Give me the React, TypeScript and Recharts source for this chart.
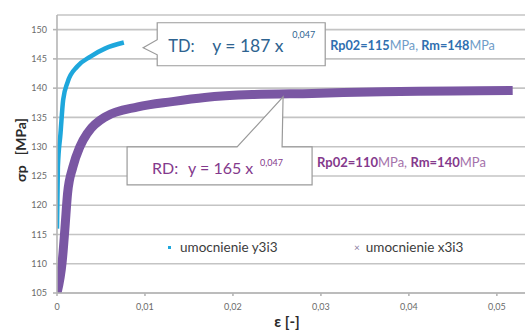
import React from 'react';
import { ComposedChart, Line, XAxis, YAxis, CartesianGrid, Legend, ReferenceDot, Label } from 'recharts';

// strain / stress
const strainTD = [0, 0.0001, 0.0004, 0.0007, 0.0012, 0.0023, 0.0038, 0.0055, 0.0076];
const stressTD = [116, 126.5, 132.3, 138, 141, 143.7, 145.4, 146.8, 147.8];
const strainRD = [0, 0.0006, 0.0009, 0.0012, 0.0018, 0.0026, 0.0035, 0.0055, 0.0092, 0.0131, 0.0168, 0.0222, 0.029, 0.037, 0.045, 0.0518];
const stressRD = [105, 110.5, 116, 122, 126.5, 130, 132.4, 135.1, 136.8, 137.7, 138.4, 138.9, 139.1, 139.4, 139.5, 139.6];

const xTicks = [0, 0.01, 0.02, 0.03, 0.04, 0.05];
const yTicks = [105, 110, 115, 120, 125, 130, 135, 140, 145, 150];
const seriesNames = ['umocnienie y3i3', 'umocnienie x3i3'];

// callout anchor points (where the pointers touch)
const tdTip = { x: 0.0098, y: 146.9 };
const rdTip = { x: 0.0257, y: 138.5 };

const CYAN = '#1ea7dc';
const PURPLE = '#7a57a3';
const BLUE_TXT = '#2f6fb0';
const PURPLE_TXT = '#84398c';
const FONT = 'Lato, "Open Sans", sans-serif';

const tdData = strainTD.map((x, i) => ({ x, y: stressTD[i] }));
const rdData = strainRD.map((x, i) => ({ x, y: stressRD[i] }));

const fmtX = (v: number) => (v === 0 ? '0' : v.toFixed(2).replace('.', ','));

const TdCallout = (props: any) => {
  const { cx, cy } = props;
  const bx = cx + 14;
  const by = cy - 25;
  const w = 168;
  const h = 43;
  const d = `M${bx},${by} H${bx + w} V${by + h} H${bx} V${cy + 7} L${cx},${cy} L${bx},${cy - 8} Z`;
  return (
    <g fontFamily={FONT}>
      <path d={d} fill="#fff" stroke="#9a9a9a" strokeWidth={1.2} />
      <text x={cx + 25} y={cy + 4} fontSize={16.5} fill="#2e6390">TD:</text>
      <text x={cx + 69} y={cy + 4} fontSize={17.5} fill="#2e6390">y = 187 x</text>
      <text x={cx + 149} y={cy - 10} fontSize={9} fill="#2e6390">0,047</text>
      <text x={cx + 187} y={cy + 2} fontSize={12.7} fill={BLUE_TXT}>
        <tspan fontWeight="bold">Rp02=115</tspan>
        <tspan fill="#6f9cc8">MPa, </tspan>
        <tspan fontWeight="bold">Rm=148</tspan>
        <tspan fill="#6f9cc8">MPa</tspan>
      </text>
    </g>
  );
};

const RdCallout = (props: any) => {
  const { cx, cy } = props;
  const bx = cx - 156;
  const by = cy + 50;
  const w = 185;
  const h = 38;
  const d = `M${bx},${by} H${cx - 46} L${cx},${cy} L${cx - 1},${by} H${bx + w} V${by + h} H${bx} Z`;
  return (
    <g fontFamily={FONT}>
      <path d={d} fill="#fff" stroke="#9a9a9a" strokeWidth={1.2} />
      <text x={cx - 131} y={cy + 77} fontSize={16} fill={PURPLE_TXT}>RD:</text>
      <text x={cx - 95} y={cy + 77} fontSize={16} fill={PURPLE_TXT}>y = 165 x</text>
      <text x={cx - 23} y={cy + 69} fontSize={9} fill={PURPLE_TXT}>0,047</text>
      <text x={cx + 34} y={cy + 70} fontSize={13} fill={PURPLE_TXT}>
        <tspan fontWeight="bold">Rp02=110</tspan>
        <tspan fill="#a572ab">MPa, </tspan>
        <tspan fontWeight="bold">Rm=140</tspan>
        <tspan fill="#a572ab">MPa</tspan>
      </text>
    </g>
  );
};

const LegendBox = () => (
  <div style={{ position: 'relative', height: 18, fontFamily: FONT, fontSize: 13.5, color: '#3c3c3c', whiteSpace: 'nowrap' }}>
    {seriesNames.map((name, i) => (
      <div key={`leg-${i}`} style={{ position: 'absolute', left: i === 0 ? 0 : 186, top: 0, display: 'flex', alignItems: 'center', height: 18 }}>
        {i === 0 ? (
          <span style={{ width: 3, height: 3, background: CYAN, display: 'inline-block', marginRight: 9 }} />
        ) : (
          <span style={{ color: '#8a7aa0', fontSize: 10, marginRight: 6 }}>×</span>
        )}
        <span>{name}</span>
      </div>
    ))}
  </div>
);

export default function App() {
  return (
    <div style={{ position: 'absolute', left: 0, top: 0, background: '#fff' }}>
      <ComposedChart width={525} height={331} margin={{ top: 15, right: 0, bottom: 0, left: 0 }}>
        <CartesianGrid vertical={false} stroke="#c4c4c4" strokeWidth={1.6} />
        <XAxis
          type="number"
          dataKey="x"
          domain={[0, 0.0532]}
          ticks={xTicks}
          tickFormatter={fmtX}
          height={38}
          tickSize={3}
          tickMargin={8}
          stroke="#b5b5b5"
          strokeWidth={1.6}
          tick={{ fontSize: 9, fill: '#6a6a6a', fontFamily: FONT }}
          allowDataOverflow
        >
          <Label
            content={(p: any) => {
              const vb = p.viewBox || { x: 57, y: 293, width: 468, height: 38 };
              return (
                <text x={vb.x + vb.width / 2 - 4} y={vb.y + 34} textAnchor="middle" fontFamily={FONT} fontWeight="bold" fontSize={15} fill="#2b2b2b">
                  ε [-]
                </text>
              );
            }}
          />
        </XAxis>
        <YAxis
          type="number"
          domain={[105, 152.5]}
          ticks={yTicks}
          width={57}
          tickSize={4}
          tickMargin={6}
          stroke="#b5b5b5"
          strokeWidth={1.6}
          tick={{ fontSize: 9, fill: '#6a6a6a', fontFamily: FONT }}
          allowDataOverflow
        >
          <Label
            content={(p: any) => {
              const vb = p.viewBox || { x: 0, y: 15, width: 57, height: 278 };
              const lx = vb.x + 22;
              const ly = vb.y + vb.height / 2 - 4;
              return (
                <text x={lx} y={ly} transform={`rotate(-90 ${lx} ${ly})`} textAnchor="middle" dominantBaseline="middle" fontFamily={FONT} fontWeight="bold" fontSize={14} fill="#2b2b2b" style={{ whiteSpace: 'pre' }}>
                  {'σp   [MPa]'}
                </text>
              );
            }}
          />
        </YAxis>
        <Line data={tdData} dataKey="y" name={seriesNames[0]} type="monotone" stroke={CYAN} strokeWidth={4.5} dot={false} isAnimationActive={false} />
        <Line data={rdData} dataKey="y" name={seriesNames[1]} type="monotone" stroke={PURPLE} strokeWidth={9} dot={false} isAnimationActive={false} />
        <ReferenceDot x={tdTip.x} y={tdTip.y} shape={TdCallout} ifOverflow="visible" />
        <ReferenceDot x={rdTip.x} y={rdTip.y} shape={RdCallout} ifOverflow="visible" />
        <Legend
          layout="horizontal"
          verticalAlign="middle"
          align="center"
          content={LegendBox}
          wrapperStyle={{ top: 238, left: 168, width: 340 }}
        />
      </ComposedChart>
    </div>
  );
}
